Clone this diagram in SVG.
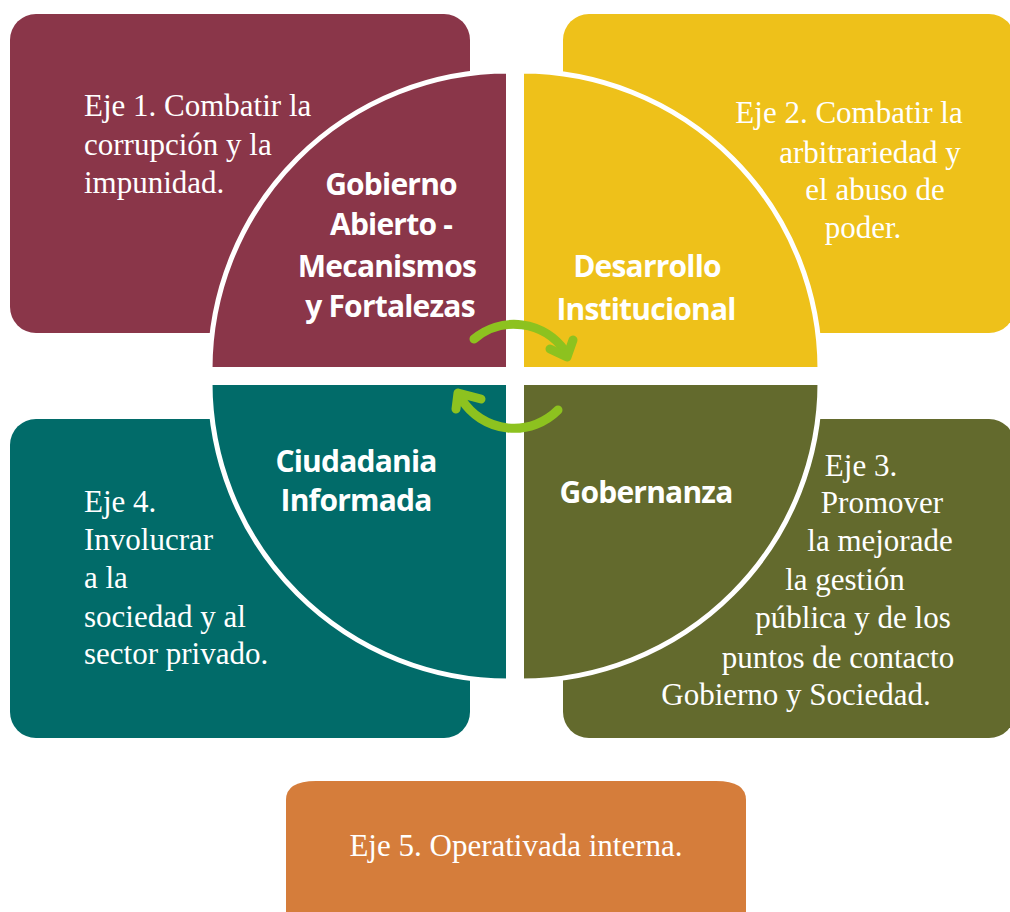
<svg xmlns="http://www.w3.org/2000/svg" width="1010" height="912" viewBox="0 0 1010 912">
<defs>
<style>
.ser{font-family:"Liberation Serif","Times New Roman",serif;font-size:31px;fill:#fff}
.lab{font-family:"Open Sans","Liberation Sans",sans-serif;font-weight:700;font-size:30px;letter-spacing:-0.8px;fill:#fff;text-anchor:middle}
.mid{text-anchor:middle}
.q{stroke:#fff;stroke-width:5}
.arr{fill:none;stroke:#8DC21F;stroke-width:9;stroke-linecap:round;stroke-linejoin:round}
</style>
</defs>
<rect width="1010" height="912" fill="#fff"/>
<g id="box1"><rect x="10" y="14" width="460" height="319" rx="26" fill="#8A3649"/>
<text class="ser"><tspan x="84" y="116">Eje 1. Combatir la</tspan><tspan x="84" y="155">corrupción y la</tspan><tspan x="84" y="193">impunidad.</tspan></text></g>
<g id="box2"><rect x="563" y="14" width="452" height="319" rx="26" fill="#EEC11A"/>
<text class="ser mid"><tspan x="849" y="123">Eje 2. Combatir la</tspan><tspan x="870" y="163">arbitrariedad y</tspan><tspan x="875" y="200">el abuso de</tspan><tspan x="863" y="238">poder.</tspan></text></g>
<g id="box4"><rect x="10" y="419" width="460" height="319" rx="26" fill="#016B69"/>
<text class="ser"><tspan x="84" y="512">Eje 4.</tspan><tspan x="84" y="550">Involucrar</tspan><tspan x="84" y="588">a la</tspan><tspan x="84" y="627">sociedad y al</tspan><tspan x="84" y="664">sector privado.</tspan></text></g>
<g id="box3"><rect x="563" y="419" width="452" height="319" rx="26" fill="#636A2D"/>
<text class="ser mid"><tspan x="861" y="476">Eje 3.</tspan><tspan x="882" y="513">Promover</tspan><tspan x="880" y="551">la mejorade</tspan><tspan x="845" y="590">la gestión</tspan><tspan x="853" y="628">pública y de los</tspan><tspan x="838" y="668">puntos de contacto</tspan><tspan x="796" y="705">Gobierno y Sociedad.</tspan></text></g>
<g id="box5"><path d="M286 800 Q286 781 316 781 L716 781 Q746 781 746 800 L746 920 L286 920 Z" fill="#D57D3B"/>
<text class="ser mid" x="516" y="856">Eje 5. Operativada interna.</text></g>
<g id="q1"><path class="q" d="M508.5 369.5 L210 369.5 A298.5 298.5 0 0 1 508.5 71 Z" fill="#8A3649"/>
<text class="lab"><tspan x="391" y="195">Gobierno</tspan><tspan x="391" y="235">Abierto -</tspan><tspan x="387" y="277">Mecanismos</tspan><tspan x="390" y="317">y Fortalezas</tspan></text></g>
<g id="q2"><path class="q" d="M521.5 369.5 L521.5 71 A298.5 298.5 0 0 1 820 369.5 Z" fill="#EEC11A"/>
<text class="lab"><tspan x="647" y="277">Desarrollo</tspan><tspan x="646" y="320">Institucional</tspan></text></g>
<g id="q3"><path class="q" d="M508.5 382.5 L508.5 681 A298.5 298.5 0 0 1 210 382.5 Z" fill="#016B69"/>
<text class="lab"><tspan x="356" y="472">Ciudadania</tspan><tspan x="356" y="511">Informada</tspan></text></g>
<g id="q4"><path class="q" d="M521.5 382.5 L820 382.5 A298.5 298.5 0 0 1 521.5 681 Z" fill="#636A2D"/>
<text class="lab" x="646" y="503">Gobernanza</text></g>
<g id="connectors">
<path class="arr" d="M474 339 A62 62 0 0 1 565 351"/>
<path class="arr" d="M550 349 L567 357 L573 340"/>
<path class="arr" d="M558 410 A62 62 0 0 1 462 400"/>
<path class="arr" d="M456 409 L458 393 L481 399"/>
</g>
</svg>
